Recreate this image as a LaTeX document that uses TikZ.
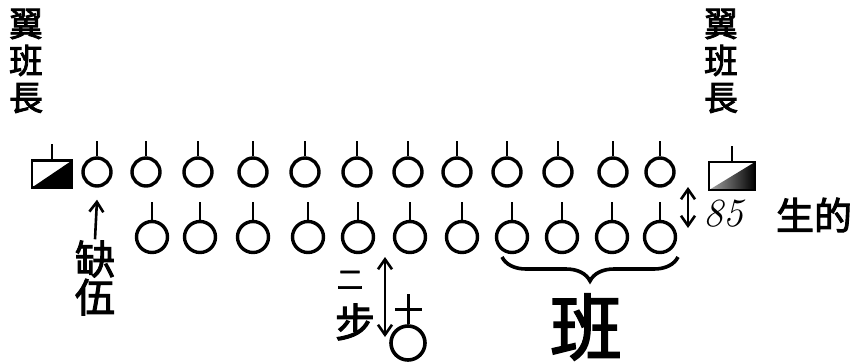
\documentclass[tikz,border=0pt]{standalone}
\usepackage{fontspec}
\newfontfamily\cjk[AutoFakeBold=2.5]{Noto Sans CJK TC}
\usetikzlibrary{arrows.meta, positioning, decorations.pathreplacing}

\begin{document}
\begin{tikzpicture}[
    x=1pt, y=-1pt,
    >={Straight Barb[length=10pt, width=14pt]},
    line width=2.6pt,
    % Styles
    seat/.style={draw, circle, line width=3.4pt, minimum size=28pt, inner sep=0pt},
    rear/.style={seat, minimum size=31pt},
    leader/.style={draw, rectangle, line width=2.8pt, inner sep=0pt, minimum width=40pt, minimum height=27pt},
    tag/.style={font=\cjk\bfseries\fontsize{34}{37}\selectfont, align=center, inner sep=0pt},
    note/.style={font=\cjk\bfseries\fontsize{40}{38}\selectfont, align=center, inner sep=0pt}
]
\useasboundingbox (0,0) rectangle (855,362);

% 1. Squad leaders
\node[tag] (lhead) at (26,61) {翼\\班\\長};
\node[tag] (rhead) at (721,61) {翼\\班\\長};

\node[leader, path picture={\fill (path picture bounding box.south west) -- (path picture bounding box.north east) -- (path picture bounding box.south east) -- cycle;}] (lsq) at (52,174) {};
\node[leader, minimum width=46pt, minimum height=28pt, path picture={\shade[left color=black!35, right color=black] (path picture bounding box.south west) -- (path picture bounding box.north east) -- (path picture bounding box.south east) -- cycle;}] (rsq) at (732,176) {};
\draw (lsq.north) -- ++(0,-15);
\draw (rsq.north) -- ++(0,-15);

% 2. Front rank
\foreach \x [count=\i] in {97,146,198,253,305,357,408,457,507,558,613,660} {
  \node[seat] (t\i) at (\x,172) {};
  \draw (t\i.north) -- ++(0,-15);
}

% 3. Rear rank
\foreach \x [count=\i] in {152,200,253,308,358,410,462,512,562,612,660} {
  \node[rear] (b\i) at (\x,237) {};
  \draw (b\i.north) -- ++(0,-18);
}

% 4. Gap marker
\node[note] (gap) at (95,278) {缺\\伍};
\draw[->] (gap.north) -- ([yshift=-12pt]t1.south);

% 5. Rank distance
\coordinate (dtop) at (688,187);
\coordinate (dbot) at (688,228);
\draw[<->] (dtop) -- (dbot);
\node[font=\itshape\fontsize{40}{40}\selectfont, inner sep=0pt] (dist) at (723,214) {85};
\node[tag, font=\cjk\bfseries\fontsize{38}{38}\selectfont] (unit) at (814,215) {生的};

% 6. Instructor
\node[seat, minimum size=34pt, line width=3.6pt] (boss) at (408,343) {};
\draw[line width=3pt] (boss.north) -- ++(0,-30);
\draw[line width=3pt] ([xshift=-13pt,yshift=15pt]boss.north) -- ++(27,0);
\coordinate (stop) at (385,257);
\coordinate (sbot) at (385,337);
\draw[<->] (stop) -- (sbot);
\node[note, font=\cjk\bfseries\fontsize{26}{26}\selectfont] (two) at (350,280) {二};
\node[note] (pace) at (355,322) {步};

% 7. Squad
\draw[line width=3.6pt, decorate, decoration={brace, mirror, amplitude=24pt}] (502,257) -- (678,257);
\node[note, font=\cjk\bfseries\fontsize{72}{72}\selectfont] (squad) at (586,327) {班};

\end{tikzpicture}
\end{document}
